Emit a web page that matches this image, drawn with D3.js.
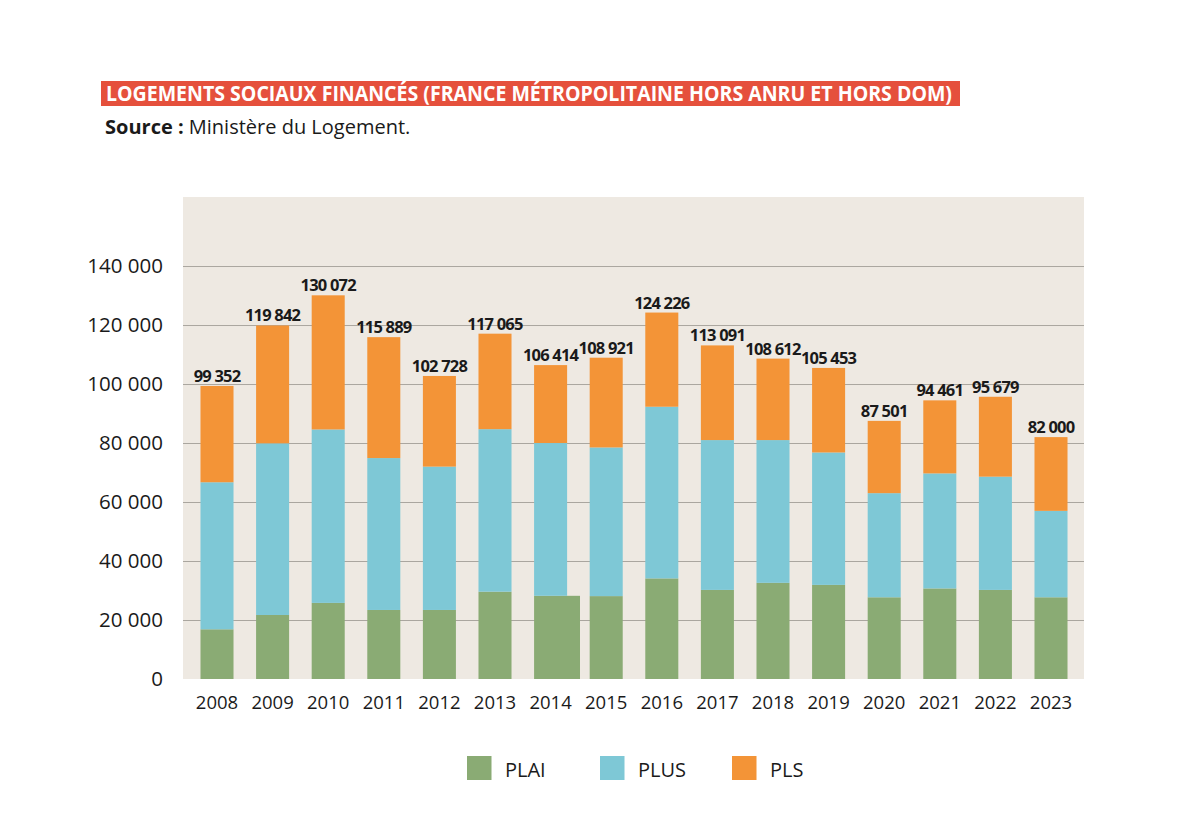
<!DOCTYPE html>
<html>
<head>
<meta charset="utf-8">
<script src="https://cdn.jsdelivr.net/npm/d3@7"></script>
<style>
  html, body { margin: 0; padding: 0; background: #ffffff; }
  svg { display: block; }
  text { font-family: "Open Sans", "Noto Sans", sans-serif; }
</style>
</head>
<body>
<svg id="chart" width="1200" height="822"></svg>
<script>
// ---- Data ----
const years = ["2008","2009","2010","2011","2012","2013","2014","2015","2016","2017","2018","2019","2020","2021","2022","2023"];
const plai  = [16850, 21700, 25800, 23400, 23400, 29600, 28200, 28100, 34100, 30200, 32600, 31900, 27700, 30700, 30200, 27700];
const plus  = [49850, 58200, 58800, 51500, 48600, 55100, 51800, 50400, 58200, 50800, 48400, 44900, 35300, 39000, 38400, 29300];
const pls   = [32652, 39942, 45472, 40989, 30728, 32365, 26414, 30421, 31926, 32091, 27612, 28653, 24501, 24761, 27079, 25000];
const totals = [99352, 119842, 130072, 115889, 102728, 117065, 106414, 108921, 124226, 113091, 108612, 105453, 87501, 94461, 95679, 82000];
const seriesKeys = ["PLAI", "PLUS", "PLS"];
const yTicks = [0, 20000, 40000, 60000, 80000, 100000, 120000, 140000];
const titleText = "LOGEMENTS SOCIAUX FINANCÉS (FRANCE MÉTROPOLITAINE HORS ANRU ET HORS DOM)";
const sourceBold = "Source :";
const sourceText = "Ministère du Logement.";

// ---- Table for the stack ----
const table = years.map((y, i) => ({ year: y, PLAI: plai[i], PLUS: plus[i], PLS: pls[i], total: totals[i] }));

const colors = { PLAI: "#8aab74", PLUS: "#7ec8d6", PLS: "#f39437" };

const svg = d3.select("#chart");
const plot = { left: 183, right: 1084, top: 197, bottom: 679 };

const x = d3.scaleBand()
  .domain(years)
  .range([189.2, 1078.8])
  .paddingInner(0.406)
  .paddingOuter(0.203);

const y = d3.scaleLinear()
  .domain([0, 163400])
  .range([plot.bottom, plot.top]);

const fmtTick = v => d3.format(",")(v).replace(/,/g, " ");

// ---- Title ----
svg.append("rect")
  .attr("x", 101).attr("y", 81).attr("width", 859).attr("height", 25)
  .attr("fill", "#e5503c");
svg.append("text")
  .attr("x", 106).attr("y", 101)
  .attr("font-size", 21).attr("font-weight", 700).attr("fill", "#ffffff")
  .attr("textLength", 846).attr("lengthAdjust", "spacingAndGlyphs")
  .text(titleText);

const src = svg.append("text")
  .attr("x", 105).attr("y", 134)
  .attr("font-size", 20).attr("fill", "#1a1a1a");
src.append("tspan").attr("font-weight", 700).text(sourceBold);
src.append("tspan").attr("font-weight", 400).text(" " + sourceText);

// ---- Plot background ----
svg.append("rect")
  .attr("x", plot.left).attr("y", plot.top)
  .attr("width", plot.right - plot.left).attr("height", plot.bottom - plot.top)
  .attr("fill", "#eee9e2");

// ---- Gridlines ----
svg.append("g").selectAll("line")
  .data(yTicks.filter(t => t > 0))
  .join("line")
  .attr("x1", plot.left).attr("x2", plot.right)
  .attr("y1", d => y(d) + 0.5).attr("y2", d => y(d) + 0.5)
  .attr("stroke", "#aaa69f").attr("stroke-width", 1);

// ---- Y axis labels ----
const yAxis = d3.axisLeft(y).tickValues(yTicks).tickFormat(fmtTick).tickSize(0).tickPadding(0);
const yg = svg.append("g").attr("transform", "translate(163,0)").call(yAxis);
yg.select(".domain").remove();
yg.selectAll("text")
  .attr("font-family", "'Open Sans', sans-serif")
  .attr("font-size", 20.5).attr("font-weight", 400).attr("fill", "#1a1a1a");

// ---- Stacked bars ----
const stack = d3.stack().keys(seriesKeys)(table);
svg.append("g").selectAll("g")
  .data(stack)
  .join("g")
  .attr("fill", d => colors[d.key])
  .each(function(layer) {
    d3.select(this).selectAll("rect")
      .data(layer)
      .join("rect")
      .attr("x", d => x(d.data.year))
      .attr("y", d => y(d[1]))
      .attr("height", d => y(d[0]) - y(d[1]))
      // the reference's 2014 PLAI segment is drawn wider than the others
      .attr("width", d => (layer.key === "PLAI" && d.data.year === "2014") ? x.bandwidth() * 1.39 : x.bandwidth());
  });

// ---- Total labels ----
svg.append("g").selectAll("text")
  .data(table)
  .join("text")
  .attr("x", d => x(d.year) + x.bandwidth() / 2)
  .attr("y", d => y(d.total) - 4)
  .attr("text-anchor", "middle")
  .attr("font-size", 16.5).attr("font-weight", 700)
  .attr("letter-spacing", -0.8)
  .attr("fill", "#1a1a1a")
  .text(d => fmtTick(d.total));

// ---- X axis labels ----
const xAxis = d3.axisBottom(x).tickSize(0).tickPadding(0);
const xg = svg.append("g").attr("transform", "translate(0,696)").call(xAxis);
xg.select(".domain").remove();
xg.selectAll("text")
  .attr("font-family", "'Open Sans', sans-serif")
  .attr("font-size", 18.5).attr("font-weight", 400).attr("fill", "#1a1a1a")
  .attr("dy", "0.71em");

// ---- Legend ----
const legendX = [467, 600, 732];
const lg = svg.append("g").selectAll("g")
  .data(seriesKeys)
  .join("g")
  .attr("transform", (d, i) => `translate(${legendX[i]},756)`);
lg.append("rect").attr("width", 24.5).attr("height", 24).attr("fill", d => colors[d]);
lg.append("text")
  .attr("x", 38).attr("y", 21)
  .attr("font-size", 20).attr("font-weight", 400).attr("fill", "#1a1a1a")
  .text(d => d);
</script>
</body>
</html>
